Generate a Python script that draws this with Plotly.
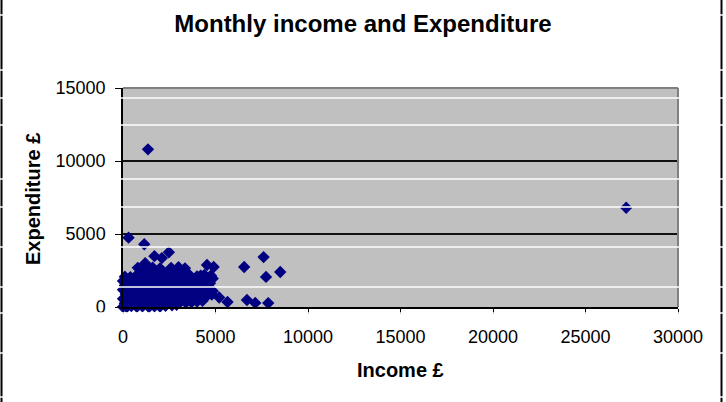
import plotly.graph_objects as go

# Outlying / edge points (income £, expenditure £)
income_outliers = [1350, 27200, 300, 1150, 1700, 2480, 2100, 1200, 7600, 6550, 7730, 8500,
                   6700, 7150, 7850, 5650, 4900, 4540, 5200, 4850, 4800]
expend_outliers = [10800, 6800, 4750, 4300, 3480, 3750, 3350, 3000, 3420, 2740, 2060, 2400,
                   480, 280, 270, 340, 2740, 2880, 650, 1100, 850]

income_cluster = [
    0, 200, 450, 750, 1050, 1400, 1700, 2000, 2300, 2650, 2900,
    100, 400, 700, 1000, 1300, 1600, 1900, 2200, 2500, 2800, 3100, 3400, 3700, 4000, 4300,
    0, 300, 600, 900, 1200, 1500, 1800, 2100, 2400, 2700, 3000, 3300, 3600, 3900, 4200, 4500,
    150, 450, 750, 1050, 1350, 1650, 1950, 2250, 2550, 2850, 3150, 3450, 3750, 4050, 4350,
    0, 300, 600, 900, 1200, 1500, 1800, 2100, 2400, 2700, 3000, 3300, 3800, 4100, 4500,
    100, 400, 700, 1000, 1300, 1600, 1900, 2200, 2500, 2800, 3100, 3500, 3900, 4300, 4700,
    0, 300, 600, 900, 1200, 1500, 1800, 2100, 2400, 2700, 3000, 3300, 3700, 4100, 4500, 4850,
    100, 400, 700, 1000, 1300, 1600, 1950, 2300, 2600, 2900, 3200, 3600, 4000, 4400, 4750,
    1050, 1450, 1800, 2150, 2550, 2950, 3300, 4200,
    800, 1200, 1600, 2000, 2600, 3000, 3350,
]
expend_cluster = [
    20, 0, 60, 10, 40, 0, 50, 30, 80, 120, 150,
    260, 300, 240, 280, 320, 250, 290, 330, 270, 310, 350, 300, 330, 380, 420,
    560, 600, 540, 620, 580, 550, 610, 570, 640, 590, 620, 560, 650, 600, 680, 720,
    880, 850, 910, 870, 920, 860, 900, 940, 880, 920, 860, 950, 900, 960, 1000,
    1180, 1150, 1220, 1170, 1200, 1160, 1240, 1190, 1210, 1160, 1230, 1180, 1250, 1200, 1280,
    1480, 1450, 1520, 1470, 1500, 1540, 1460, 1510, 1490, 1550, 1470, 1520, 1580, 1500, 1620,
    1780, 1750, 1820, 1770, 1810, 1760, 1840, 1790, 1750, 1830, 1780, 1850, 1800, 1880, 1820, 1950,
    2080, 2050, 2120, 2070, 2140, 2060, 2110, 2160, 2090, 2130, 2050, 2180, 2100, 2200, 2150,
    2400, 2460, 2380, 2440, 2400, 2350, 2420, 2150,
    2680, 2720, 2700, 2650, 2680, 2720, 2650,
]

income = income_cluster + income_outliers
expenditure = expend_cluster + expend_outliers

x_ticks = [0, 5000, 10000, 15000, 20000, 25000, 30000]
y_ticks = [0, 5000, 10000, 15000]

W, H = 726, 402
L, R, T, B = 123, 48, 88, 95
PW, PH = W - L - R, H - T - B


def px_to_paper_x(px):
    return (px - L) / PW


def py_to_paper_y(py):
    return (H - B - py) / PH


fig = go.Figure()
fig.add_trace(go.Scatter(
    x=income, y=expenditure, mode="markers",
    marker=dict(symbol="diamond", size=9.5, color="#000080", line=dict(width=0)),
    cliponaxis=False, showlegend=False, hoverinfo="x+y",
))

font = "Liberation Sans, Arial, sans-serif"

fig.update_layout(
    width=W, height=H,
    margin=dict(l=L, r=R, t=T, b=B),
    paper_bgcolor="white",
    plot_bgcolor="#C0C0C0",
    font=dict(family=font, size=18, color="black"),
    title=dict(text="<b>Monthly income and Expenditure</b>",
               x=0.5, xref="container", xanchor="center",
               y=1 - 24 / H, yref="container", yanchor="middle",
               font=dict(family=font, size=24, color="black")),
    xaxis=dict(range=[0, 30000], tickvals=x_ticks, ticktext=[str(v) for v in x_ticks],
               showgrid=False, zeroline=False, showline=True, linecolor="black", linewidth=1.5,
               ticks="outside", ticklen=5, tickcolor="black", tickwidth=1.2,
               ticklabelstandoff=8, tickfont=dict(size=18)),
    yaxis=dict(range=[0, 15000], tickvals=y_ticks, ticktext=[str(v) for v in y_ticks],
               showgrid=True, gridcolor="#111111", gridwidth=1.5, zeroline=False,
               showline=True, linecolor="black", linewidth=1.5,
               ticks="outside", ticklen=6, tickcolor="black", tickwidth=1.2,
               ticklabelstandoff=6, tickfont=dict(size=18)),
    annotations=[
        dict(text="<b>Expenditure £</b>", xref="paper", yref="paper",
             x=px_to_paper_x(33), y=py_to_paper_y(199), textangle=-90,
             showarrow=False, xanchor="center", yanchor="middle",
             font=dict(family=font, size=20, color="black")),
        dict(text="<b>Income £</b>", xref="paper", yref="paper",
             x=px_to_paper_x(400), y=py_to_paper_y(370),
             showarrow=False, xanchor="center", yanchor="middle",
             font=dict(family=font, size=20, color="black")),
    ],
)

shapes = []
# grey plot-area border on top and right
shapes.append(dict(type="line", xref="paper", yref="paper", x0=0, x1=1, y0=1, y1=1,
                   line=dict(color="#808080", width=2), layer="above"))
shapes.append(dict(type="line", xref="paper", yref="paper", x0=1, x1=1, y0=0, y1=1,
                   line=dict(color="#808080", width=2), layer="above"))
# outer chart frame (left and right edges)
for px in (1.5, 721.5):
    shapes.append(dict(type="line", xref="paper", yref="paper",
                       x0=px_to_paper_x(px), x1=px_to_paper_x(px),
                       y0=py_to_paper_y(0), y1=py_to_paper_y(H),
                       line=dict(color="black", width=2), layer="above"))
# white scan streaks across the picture
for py in (15, 70, 98, 125, 179, 207, 247, 287, 313, 353, 397):
    shapes.append(dict(type="line", xref="paper", yref="paper",
                       x0=px_to_paper_x(0), x1=px_to_paper_x(W),
                       y0=py_to_paper_y(py), y1=py_to_paper_y(py),
                       line=dict(color="white", width=1.5), layer="above"))
fig.update_layout(shapes=shapes)

fig.write_html("out.html")
